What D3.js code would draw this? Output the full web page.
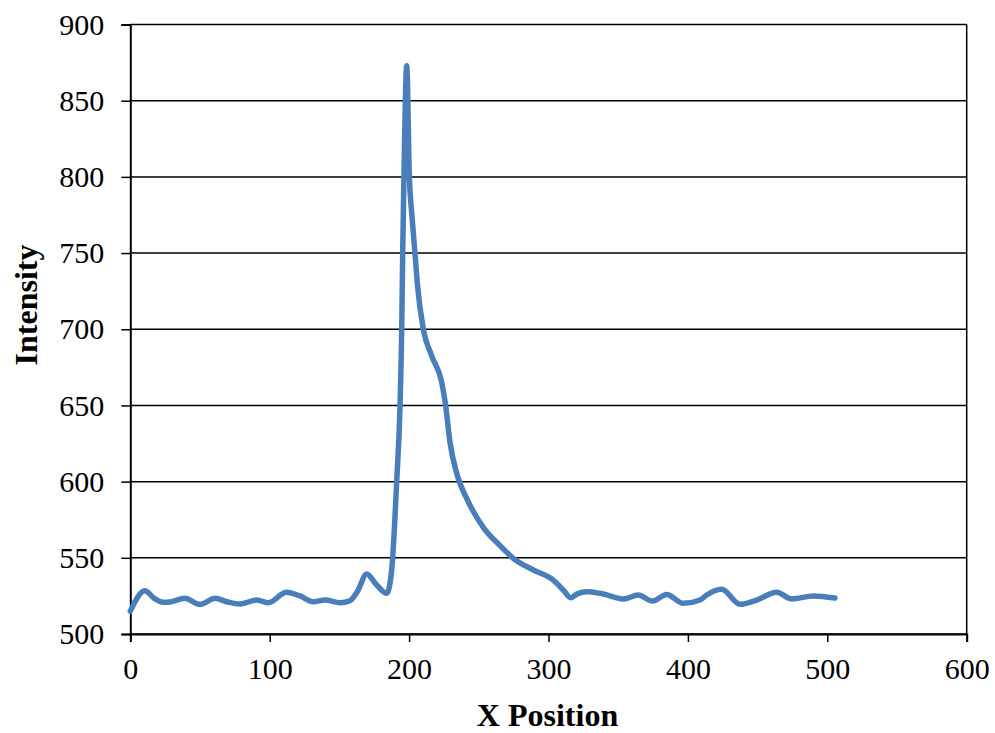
<!DOCTYPE html>
<html>
<head>
<meta charset="utf-8">
<script src="https://cdn.jsdelivr.net/npm/d3@7/dist/d3.min.js"></script>
<style>
  html, body { margin: 0; padding: 0; background: #ffffff; }
  svg { display: block; }
  text { font-family: "Liberation Serif", "Times New Roman", serif; fill: #000; }
</style>
</head>
<body>
<svg id="chart" width="995" height="733"></svg>
<script>
// Intensity profile along the X position
const xPosition = [0, 10.5, 17, 23.7, 28.5, 39, 50, 60.8, 70, 78.7, 90.7, 99, 112, 121.7, 131.3, 139.7, 150.4, 157.6, 163, 169.6, 176, 184, 187.5, 191.1, 193.5, 194.7, 195.4, 196.3, 198.3, 200.2, 202.1, 204.2, 205.9, 210.2, 216.2, 223.4, 226.2, 229.3, 234.6, 241.3, 253.2, 265.2, 274.7, 289.1, 303.4, 310.6, 315.9, 321, 327.4, 337, 353.7, 364.4, 374.5, 384.8, 396.7, 408.7, 413.5, 424.2, 437.4, 449.4, 463.7, 474.5, 490, 505.5];
const intensity = [515, 528.4, 523.5, 520.8, 521, 523.4, 519.5, 523.4, 521, 519.7, 522.3, 520.5, 527.4, 525, 521.2, 522.3, 520.5, 521.8, 528, 539.4, 533, 526.7, 542, 600, 650, 700, 750, 800, 873, 800, 774, 750, 730, 700, 682.6, 665, 650, 626, 604, 589, 570, 558, 549.7, 542, 535.4, 528.9, 523.8, 526.5, 527.7, 526.7, 523, 525.6, 521.6, 526, 520.1, 522.3, 525.6, 529.3, 519.5, 522.3, 527.4, 523, 525, 523.6];

const xTicks = [0, 100, 200, 300, 400, 500, 600];
const yTicks = [500, 550, 600, 650, 700, 750, 800, 850, 900];

const margin = { left: 130.3, right: 995 - 966.7, top: 24.5, bottom: 733 - 634 };
const width = 995, height = 733;
const svg = d3.select("#chart");

const x = d3.scaleLinear().domain([0, 600]).range([margin.left, width - margin.right]);
const y = d3.scaleLinear().domain([500, 900]).range([height - margin.bottom, margin.top]);

// horizontal gridlines
svg.append("g")
  .selectAll("line")
  .data(yTicks)
  .join("line")
  .attr("x1", x(0)).attr("x2", x(600))
  .attr("y1", d => y(d)).attr("y2", d => y(d))
  .attr("stroke", "#000").attr("stroke-width", 1.5);

// right border of the plot area
svg.append("line")
  .attr("x1", x(600)).attr("x2", x(600))
  .attr("y1", y(900)).attr("y2", y(500))
  .attr("stroke", "#000").attr("stroke-width", 1.5);

// axes
const yAxis = svg.append("g")
  .attr("transform", `translate(${x(0)},0)`)
  .call(d3.axisLeft(y).tickValues(yTicks).tickSize(9).tickPadding(17).tickFormat(d3.format("d")));
const xAxis = svg.append("g")
  .attr("transform", `translate(0,${y(500)})`)
  .call(d3.axisBottom(x).tickValues(xTicks).tickSize(8).tickPadding(16).tickFormat(d3.format("d")));

[yAxis, xAxis].forEach(g => {
  g.select(".domain").attr("stroke", "#000").attr("stroke-width", 2);
  g.selectAll(".tick line").attr("stroke", "#000").attr("stroke-width", 1.5);
  g.selectAll(".tick text")
    .attr("font-family", "'Liberation Serif', 'Times New Roman', serif")
    .attr("font-size", 30)
    .attr("fill", "#000");
});

// intensity curve
const pts = xPosition.map((d, i) => [d, intensity[i]]);
svg.append("path")
  .datum(pts)
  .attr("fill", "none")
  .attr("stroke", "#4A7EBB")
  .attr("stroke-width", 5.5)
  .attr("stroke-linejoin", "round")
  .attr("stroke-linecap", "round")
  .attr("d", d3.line().x(d => x(d[0])).y(d => y(d[1])).curve(d3.curveMonotoneX));

// axis titles
svg.append("text")
  .attr("x", 547.5)
  .attr("y", 726)
  .attr("text-anchor", "middle")
  .attr("font-size", 32)
  .attr("font-weight", "bold")
  .text("X Position");

svg.append("text")
  .attr("transform", `translate(37,305) rotate(-90)`)
  .attr("text-anchor", "middle")
  .attr("font-size", 32)
  .attr("font-weight", "bold")
  .text("Intensity");
</script>
</body>
</html>
